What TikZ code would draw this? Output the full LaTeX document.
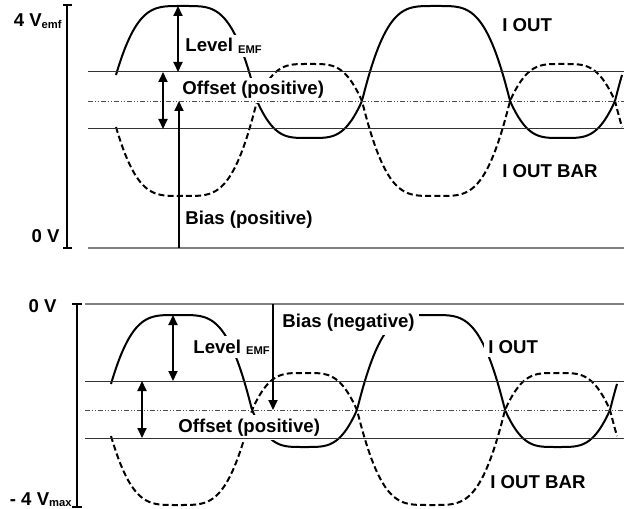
\documentclass[tikz,border=0pt]{standalone}
\usepackage{fontspec}
\setmainfont{Liberation Sans}
\usetikzlibrary{arrows.meta,positioning}
\newcommand{\lowsub}[1]{\raisebox{-0.7pt}{\fontsize{5.6}{6}\selectfont #1}}

\begin{document}
\begin{tikzpicture}[x=0.5pt,y=0.5pt,
    every node/.style={font=\bfseries\fontsize{9.3}{11}\selectfont,inner sep=2pt},
    lbl/.style={fill=white,anchor=base west},
    side/.style={anchor=base east,inner sep=0pt},
    iout/.style={line width=1pt},
    ioutbar/.style={line width=1pt,dash pattern=on 3pt off 1.6pt},
    refline/.style={line width=0.5pt,black!80},
    zeroline/.style={line width=0.9pt,black!50},
    midline/.style={line width=0.4pt,black!70,dash pattern=on 2.5pt off 1pt on 0.5pt off 1pt on 0.5pt off 1pt},
    scalebar/.style={line width=0.9pt},
    dim/.style={line width=0.9pt,{Triangle[length=5pt,width=4.5pt]}-{Triangle[length=5pt,width=4.5pt]}},
    dimone/.style={line width=0.9pt,-{Triangle[length=5pt,width=4.5pt]}},
    declare function={
      lobe(\t)=sin(180*\t)*(2-sin(180*\t));
      wv(\p)=(\p<148)*95*lobe(\p/148)-(1-(\p<148))*37*lobe((\p-148)/105);
    }]
  \useasboundingbox (0,0) rectangle (624,508);

  % upper panel: positive bias
  \begin{scope}[shift={(0,407)}]
    \draw[iout] plot[domain=116:622,samples=300] (\x,{wv(mod(\x-109,253))});
    \draw[ioutbar] plot[domain=116:622,samples=300] (\x,{-wv(mod(\x-109,253))});
    \node[lbl] (lvlA) at (181,49) {Level \lowsub{EMF}};
    \node[lbl] (offA) at (178,6) {Offset (positive)};
    \node[lbl] (biasA) at (181,-124) {Bias (positive)};
    \node[lbl] (outA) at (498,69) {I OUT};
    \node[lbl] (barA) at (498,-77) {I OUT BAR};
    \draw[zeroline] (88,-147) -- (624,-147);
    \draw[refline] (88,29) -- (624,29);
    \draw[refline] (88,-28) -- (624,-28);
    \draw[midline] (88,0) -- (624,0);
    \coordinate (pkA) at (178,95);
    \coordinate (upA) at (178,29);
    \coordinate (offtopA) at (163,29);
    \coordinate (offbotA) at (163,-28);
    \coordinate (footA) at (179,-147);
    \coordinate (tipA) at (179,0);
    \draw[dim] (pkA) -- (upA);
    \draw[dim] (offtopA) -- (offbotA);
    \draw[dimone] (footA) -- (tipA);
    \draw[scalebar] (63,96) -- (72,96) (67,96) -- (67,-147) (63,-147) -- (72,-147);
    \node[side] (maxA) at (62,74) {4 V\lowsub{emf}};
    \node[side] (zeroA) at (60,-142) {0 V};
  \end{scope}

  % lower panel: negative bias
  \begin{scope}[shift={(0,98)}]
    \draw[iout] plot[domain=111:617,samples=300] (\x,{wv(mod(\x-104,253))});
    \draw[ioutbar] plot[domain=111:617,samples=300] (\x,{-wv(mod(\x-104,253))});
    \node[lbl] (lvlB) at (189,57) {Level \lowsub{EMF}};
    \node[lbl] (offB) at (174,-22) {Offset (positive)};
    \node[lbl] (biasB) at (278,83) {Bias (negative)};
    \node[lbl] (outB) at (484,57) {I OUT};
    \node[lbl] (barB) at (486,-78) {I OUT BAR};
    \draw[zeroline] (85,106) -- (624,106);
    \draw[refline] (85,29) -- (624,29);
    \draw[refline] (85,-28) -- (624,-28);
    \draw[midline] (85,0) -- (624,0);
    \coordinate (pkB) at (173,95);
    \coordinate (upB) at (173,29);
    \coordinate (offtopB) at (142,29);
    \coordinate (offbotB) at (142,-28);
    \coordinate (footB) at (273,106);
    \coordinate (tipB) at (273,0);
    \draw[dim] (pkB) -- (upB);
    \draw[dim] (offtopB) -- (offbotB);
    \draw[dimone] (footB) -- (tipB);
    \draw[scalebar] (72,106) -- (82,106) (77,106) -- (77,-97) (72,-97) -- (82,-97);
    \node[side] (zeroB) at (57,97) {0 V};
    \node[side] (maxB) at (72,-95) {- 4 V\lowsub{max}};
  \end{scope}
\end{tikzpicture}
\end{document}
